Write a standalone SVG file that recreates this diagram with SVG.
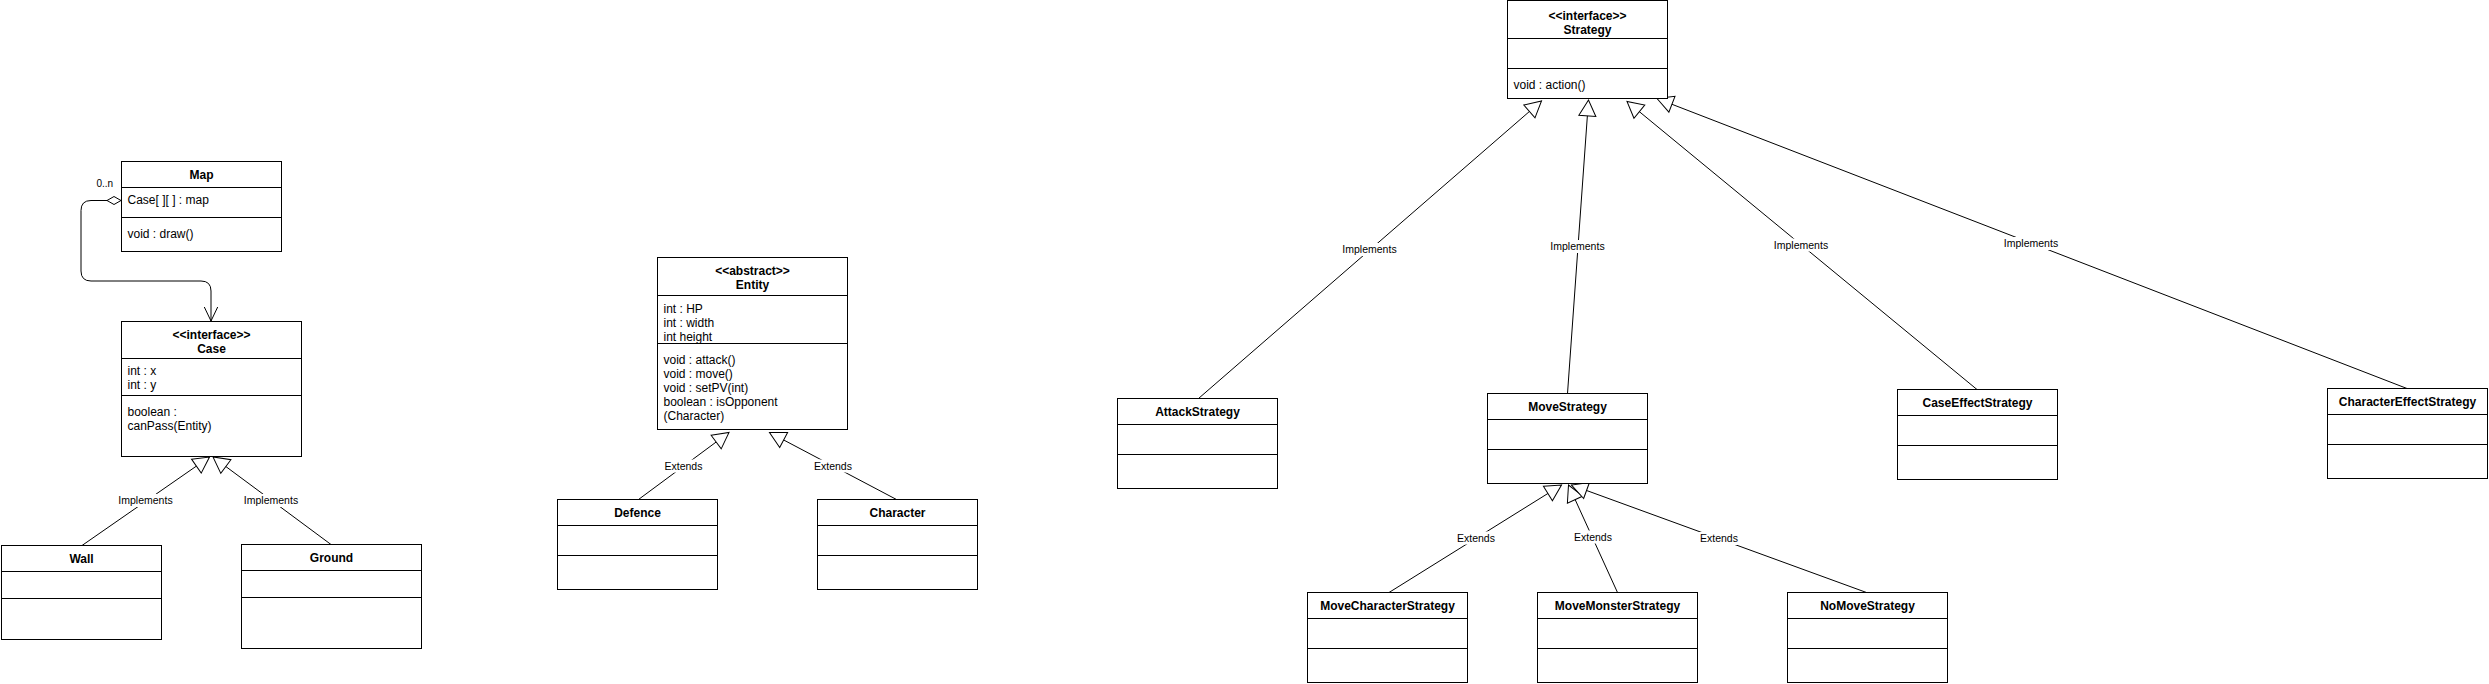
<svg xmlns="http://www.w3.org/2000/svg" width="2489" height="684" viewBox="0 0 2489 684">
<style>
.box{fill:#fff;stroke:#000;stroke-width:1}
.sep{stroke:#000;stroke-width:1;fill:none}
.name{font-family:"Liberation Sans",Arial,sans-serif;font-size:12px;font-weight:bold;text-anchor:middle;fill:#000}
.attr{font-family:"Liberation Sans",Arial,sans-serif;font-size:12px;fill:#000}
.lbl{font-family:"Liberation Sans",Arial,sans-serif;font-size:10.5px;text-anchor:middle;fill:#000}
.mult{font-family:"Liberation Sans",Arial,sans-serif;font-size:10px;fill:#000}
.lbg{fill:#fff}
.edge{stroke:#000;stroke-width:1;fill:none;marker-end:url(#tri)}
</style>
<defs>
<marker id="tri" markerUnits="userSpaceOnUse" markerWidth="20" markerHeight="20" refX="16" refY="8.5" orient="auto" overflow="visible">
<path d="M0,0 L16,8.5 L0,17 Z" fill="#fff" stroke="#000" stroke-width="1"/>
</marker>
<marker id="open" markerUnits="userSpaceOnUse" markerWidth="16" markerHeight="16" refX="14" refY="6.7" orient="auto" overflow="visible">
<path d="M0,0 L14,6.7 L0,13.4" fill="none" stroke="#000" stroke-width="1"/>
</marker>
</defs>
<rect width="2489" height="684" fill="#fff"/>

<g id="connectors">
<path d="M107,200.5 L91,200.5 Q81,200.5 81,210.5 L81,271 Q81,281 91,281 L201,281 Q211,281 211,291 L211,321" fill="none" stroke="#000" stroke-width="1" marker-end="url(#open)"/>
<path d="M121,200.5 L114,196.5 L107,200.5 L114,204.5 Z" fill="#fff" stroke="#000" stroke-width="1"/>
<text class="mult" x="96.5" y="186.5">0..n</text>

<line class="edge" x1="82" y1="545.5" x2="209.5" y2="457"/>
<line class="edge" x1="331" y1="544.5" x2="213" y2="457"/>
<line class="edge" x1="638.5" y1="499.5" x2="729" y2="432.5"/>
<line class="edge" x1="896.5" y1="499.5" x2="769.5" y2="432.5"/>
<line class="edge" x1="1198.5" y1="398.5" x2="1541.5" y2="101"/>
<line class="edge" x1="1567.5" y1="393.5" x2="1588.5" y2="100"/>
<line class="edge" x1="1977" y1="389.5" x2="1627" y2="101.5"/>
<line class="edge" x1="2407" y1="388.5" x2="1657" y2="98.5"/>
<line class="edge" x1="1389" y1="592.5" x2="1561.5" y2="485"/>
<line class="edge" x1="1617.5" y1="592.5" x2="1568.5" y2="485"/>
<line class="edge" x1="1866.5" y1="592.5" x2="1571.5" y2="485"/>

<rect class="lbg" x="117.5" y="494" width="56" height="13"/>
<text class="lbl" x="145.5" y="504.3">Implements</text>
<rect class="lbg" x="243" y="494" width="56" height="13"/>
<text class="lbl" x="271" y="504.3">Implements</text>
<rect class="lbg" x="663.5" y="459.5" width="40" height="13"/>
<text class="lbl" x="683.5" y="469.8">Extends</text>
<rect class="lbg" x="813" y="459.5" width="40" height="13"/>
<text class="lbl" x="833" y="469.8">Extends</text>
<rect class="lbg" x="1341.5" y="243" width="56" height="13"/>
<text class="lbl" x="1369.5" y="253.3">Implements</text>
<rect class="lbg" x="1549.5" y="240" width="56" height="13"/>
<text class="lbl" x="1577.5" y="250.3">Implements</text>
<rect class="lbg" x="1773" y="238.5" width="56" height="13"/>
<text class="lbl" x="1801" y="248.8">Implements</text>
<rect class="lbg" x="2003" y="237" width="56" height="13"/>
<text class="lbl" x="2031" y="247.3">Implements</text>
<rect class="lbg" x="1456" y="531.5" width="40" height="13"/>
<text class="lbl" x="1476" y="541.8">Extends</text>
<rect class="lbg" x="1573" y="530.5" width="40" height="13"/>
<text class="lbl" x="1593" y="540.8">Extends</text>
<rect class="lbg" x="1699" y="532" width="40" height="13"/>
<text class="lbl" x="1719" y="542.3">Extends</text>
</g>

<g id="Map">
<rect class="box" x="121.5" y="161.5" width="160" height="90"/>
<line class="sep" x1="121.5" y1="187.5" x2="281.5" y2="187.5"/>
<line class="sep" x1="121.5" y1="217.5" x2="281.5" y2="217.5"/>
<text class="name" x="201.5" y="178.5">Map</text>
<text class="attr" x="127.5" y="204">Case[ ][ ] : map</text>
<text class="attr" x="127.5" y="237.5">void : draw()</text>
</g>

<g id="Case">
<rect class="box" x="121.5" y="321.5" width="180" height="135"/>
<line class="sep" x1="121.5" y1="358.5" x2="301.5" y2="358.5"/>
<line class="sep" x1="121.5" y1="395.5" x2="301.5" y2="395.5"/>
<text class="name" x="211.5" y="338.5">&lt;&lt;interface&gt;&gt;</text>
<text class="name" x="211.5" y="352.5">Case</text>
<text class="attr" x="127.5" y="375">int : x</text>
<text class="attr" x="127.5" y="389">int : y</text>
<text class="attr" x="127.5" y="415.5">boolean :</text>
<text class="attr" x="127.5" y="429.5">canPass(Entity)</text>
</g>

<g id="Wall">
<rect class="box" x="1.5" y="545.5" width="160" height="94"/>
<line class="sep" x1="1.5" y1="571.5" x2="161.5" y2="571.5"/>
<line class="sep" x1="1.5" y1="598.5" x2="161.5" y2="598.5"/>
<text class="name" x="81.5" y="563">Wall</text>
</g>

<g id="Ground">
<rect class="box" x="241.5" y="544.5" width="180" height="104"/>
<line class="sep" x1="241.5" y1="570.5" x2="421.5" y2="570.5"/>
<line class="sep" x1="241.5" y1="597.5" x2="421.5" y2="597.5"/>
<text class="name" x="331.5" y="562">Ground</text>
</g>

<g id="Entity">
<rect class="box" x="657.5" y="257.5" width="190" height="172"/>
<line class="sep" x1="657.5" y1="295.5" x2="847.5" y2="295.5"/>
<text class="name" x="752.5" y="275">&lt;&lt;abstract&gt;&gt;</text>
<text class="name" x="752.5" y="289">Entity</text>
<text class="attr" x="663.5" y="312.5">int : HP</text>
<text class="attr" x="663.5" y="326.5">int : width</text>
<text class="attr" x="663.5" y="340.5">int height</text>
<line class="sep" x1="657.5" y1="343.5" x2="847.5" y2="343.5"/>
<text class="attr" x="663.5" y="364">void : attack()</text>
<text class="attr" x="663.5" y="378">void : move()</text>
<text class="attr" x="663.5" y="392">void : setPV(int)</text>
<text class="attr" x="663.5" y="406">boolean : isOpponent</text>
<text class="attr" x="663.5" y="420">(Character)</text>
</g>

<g id="Defence">
<rect class="box" x="557.5" y="499.5" width="160" height="90"/>
<line class="sep" x1="557.5" y1="525.5" x2="717.5" y2="525.5"/>
<line class="sep" x1="557.5" y1="555.5" x2="717.5" y2="555.5"/>
<text class="name" x="637.5" y="517">Defence</text>
</g>

<g id="Character">
<rect class="box" x="817.5" y="499.5" width="160" height="90"/>
<line class="sep" x1="817.5" y1="525.5" x2="977.5" y2="525.5"/>
<line class="sep" x1="817.5" y1="555.5" x2="977.5" y2="555.5"/>
<text class="name" x="897.5" y="517">Character</text>
</g>

<g id="Strategy">
<rect class="box" x="1507.5" y="0.5" width="160" height="98"/>
<line class="sep" x1="1507.5" y1="38.5" x2="1667.5" y2="38.5"/>
<line class="sep" x1="1507.5" y1="68.5" x2="1667.5" y2="68.5"/>
<text class="name" x="1587.5" y="19.5">&lt;&lt;interface&gt;&gt;</text>
<text class="name" x="1587.5" y="33.5">Strategy</text>
<text class="attr" x="1513.5" y="89">void : action()</text>
</g>

<g id="AttackStrategy">
<rect class="box" x="1117.5" y="398.5" width="160" height="90"/>
<line class="sep" x1="1117.5" y1="424.5" x2="1277.5" y2="424.5"/>
<line class="sep" x1="1117.5" y1="454.5" x2="1277.5" y2="454.5"/>
<text class="name" x="1197.5" y="415.5">AttackStrategy</text>
</g>

<g id="MoveStrategy">
<rect class="box" x="1487.5" y="393.5" width="160" height="90"/>
<line class="sep" x1="1487.5" y1="419.5" x2="1647.5" y2="419.5"/>
<line class="sep" x1="1487.5" y1="449.5" x2="1647.5" y2="449.5"/>
<text class="name" x="1567.5" y="410.5">MoveStrategy</text>
</g>

<g id="CaseEffectStrategy">
<rect class="box" x="1897.5" y="389.5" width="160" height="90"/>
<line class="sep" x1="1897.5" y1="415.5" x2="2057.5" y2="415.5"/>
<line class="sep" x1="1897.5" y1="445.5" x2="2057.5" y2="445.5"/>
<text class="name" x="1977.5" y="406.5">CaseEffectStrategy</text>
</g>

<g id="CharacterEffectStrategy">
<rect class="box" x="2327.5" y="388.5" width="160" height="90"/>
<line class="sep" x1="2327.5" y1="414.5" x2="2487.5" y2="414.5"/>
<line class="sep" x1="2327.5" y1="444.5" x2="2487.5" y2="444.5"/>
<text class="name" x="2407.5" y="405.5">CharacterEffectStrategy</text>
</g>

<g id="MoveCharacterStrategy">
<rect class="box" x="1307.5" y="592.5" width="160" height="90"/>
<line class="sep" x1="1307.5" y1="618.5" x2="1467.5" y2="618.5"/>
<line class="sep" x1="1307.5" y1="648.5" x2="1467.5" y2="648.5"/>
<text class="name" x="1387.5" y="609.5">MoveCharacterStrategy</text>
</g>

<g id="MoveMonsterStrategy">
<rect class="box" x="1537.5" y="592.5" width="160" height="90"/>
<line class="sep" x1="1537.5" y1="618.5" x2="1697.5" y2="618.5"/>
<line class="sep" x1="1537.5" y1="648.5" x2="1697.5" y2="648.5"/>
<text class="name" x="1617.5" y="609.5">MoveMonsterStrategy</text>
</g>

<g id="NoMoveStrategy">
<rect class="box" x="1787.5" y="592.5" width="160" height="90"/>
<line class="sep" x1="1787.5" y1="618.5" x2="1947.5" y2="618.5"/>
<line class="sep" x1="1787.5" y1="648.5" x2="1947.5" y2="648.5"/>
<text class="name" x="1867.5" y="609.5">NoMoveStrategy</text>
</g>
</svg>
